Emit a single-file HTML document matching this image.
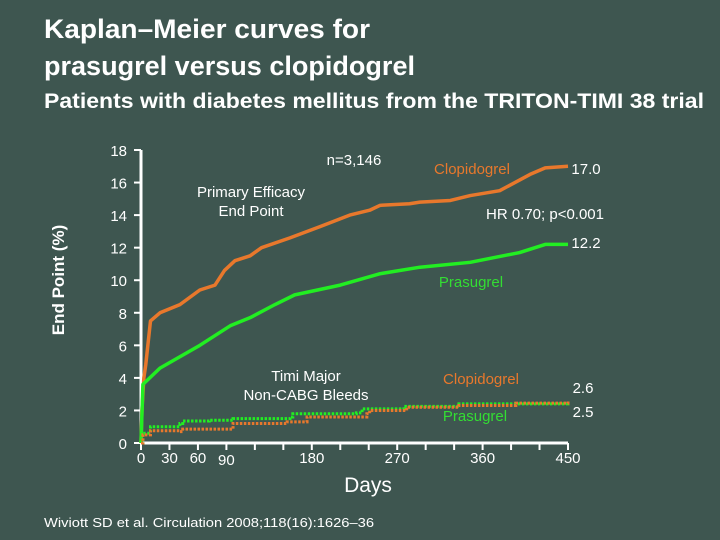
<!DOCTYPE html>
<html><head><meta charset="utf-8"><style>
html,body{margin:0;padding:0;background:#3e5650;}
svg{display:block;font-family:"Liberation Sans",sans-serif;}
</style></head><body>
<svg id="chart" width="720" height="540" viewBox="0 0 720 540">
<rect width="720" height="540" fill="#3e5650"/>
<text x="44" y="38" fill="#fff" font-size="27" font-weight="bold" textLength="326" lengthAdjust="spacingAndGlyphs">Kaplan–Meier curves for</text>
<text x="44" y="75" fill="#fff" font-size="27" font-weight="bold" textLength="371" lengthAdjust="spacingAndGlyphs">prasugrel versus clopidogrel</text>
<text x="44" y="108" fill="#fff" font-size="21" font-weight="bold" textLength="660" lengthAdjust="spacingAndGlyphs">Patients with diabetes mellitus from the TRITON-TIMI 38 trial</text>
<g id="axes"></g>
<g id="series"></g>
<text transform="translate(64,280) rotate(-90)" text-anchor="middle" fill="#fff" font-size="17" font-weight="bold">End Point (%)</text>
<text x="368" y="492" text-anchor="middle" fill="#fff" font-size="21">Days</text>
<text x="354" y="165" text-anchor="middle" fill="#fff" font-size="15">n=3,146</text>
<text x="251" y="197" text-anchor="middle" fill="#fff" font-size="15">Primary Efficacy</text>
<text x="251" y="216" text-anchor="middle" fill="#fff" font-size="15">End Point</text>
<text x="306" y="381" text-anchor="middle" fill="#fff" font-size="15">Timi Major</text>
<text x="306" y="400" text-anchor="middle" fill="#fff" font-size="15">Non-CABG Bleeds</text>
<text x="472" y="174" text-anchor="middle" fill="#e8782c" font-size="15">Clopidogrel</text>
<text x="586" y="174" text-anchor="middle" fill="#fff" font-size="15">17.0</text>
<text x="545" y="219" text-anchor="middle" fill="#fff" font-size="15">HR 0.70; p&lt;0.001</text>
<text x="586" y="248" text-anchor="middle" fill="#fff" font-size="15">12.2</text>
<text x="471" y="287" text-anchor="middle" fill="#33dd33" font-size="15">Prasugrel</text>
<text x="481" y="384" text-anchor="middle" fill="#e8782c" font-size="15">Clopidogrel</text>
<text x="583" y="393" text-anchor="middle" fill="#fff" font-size="15">2.6</text>
<text x="475" y="421" text-anchor="middle" fill="#33dd33" font-size="15">Prasugrel</text>
<text x="583" y="417" text-anchor="middle" fill="#fff" font-size="15">2.5</text>
<text x="44" y="527" fill="#fff" font-size="12.5" textLength="330" lengthAdjust="spacingAndGlyphs">Wiviott SD et al. Circulation 2008;118(16):1626–36</text>
</svg>
<script>
const yTicks=[0,2,4,6,8,10,12,14,16,18];
const xTickDays=[0,30,60,90,120,150,180,210,240,270,300,330,360,390,420,450];
const xLabels=[0,30,60,90,180,270,360,450];
const clopEffDays=[0,1,2,3,5,10,20,41,62,78,88,99,115,127,157,189,220,241,252,283,294,326,347,378,410,426,450];
const clopEffVals=[0,2,3,4,4.8,7.5,8.0,8.5,9.4,9.7,10.6,11.2,11.5,12.0,12.6,13.3,14.0,14.3,14.6,14.7,14.8,14.9,15.2,15.5,16.5,16.9,17.0];
const prasEffDays=[0,2,20,62,94,115,141,162,210,252,294,347,399,426,450];
const prasEffVals=[0,3.6,4.6,6.0,7.2,7.7,8.5,9.1,9.7,10.4,10.8,11.1,11.7,12.2,12.2];
const clopBleedDays=[0,2,10,41,44,86,97,154,175,238,241,276,280,335,395,450];
const clopBleedVals=[0,0.5,0.75,0.7,0.85,0.85,1.2,1.3,1.6,1.8,2.0,2.0,2.2,2.3,2.45,2.55];
const prasBleedDays=[0,2,10,41,44,72,97,157,160,227,233,272,277,332,335,450];
const prasBleedVals=[0,0.6,1.0,1.2,1.35,1.4,1.5,1.6,1.8,1.85,2.1,2.1,2.25,2.25,2.4,2.5];
const NS='http://www.w3.org/2000/svg';
const x=d=>141+d*(568-141)/450;
const y=v=>443-v*(443-150)/18;
function mk(tag,attrs,parent){const e=document.createElementNS(NS,tag);for(const k in attrs)e.setAttribute(k,attrs[k]);parent.appendChild(e);return e;}
const ax=document.getElementById('axes');
let a=mk('line',{x1:x(0),y1:y(18),x2:x(0),y2:y(0)+1,stroke:'#fff','stroke-width':3},ax);


a=mk('line',{x1:x(0)-1,y1:y(0),x2:x(450),y2:y(0),stroke:'#fff','stroke-width':3},ax);


yTicks.forEach(v=>{
  const t=mk('line',{x1:x(0)-7,y1:y(v),x2:x(0),y2:y(v),stroke:'#fff','stroke-width':2},ax);
  
  
  const l=mk('text',{x:x(0)-14,y:y(v)+6,'text-anchor':'end',fill:'#fff','font-size':15},ax);
  l.textContent=v;
  
  
});
xTickDays.forEach(d=>{
  const t=mk('line',{x1:x(d),y1:y(0),x2:x(d),y2:y(0)+7,stroke:'#fff','stroke-width':2},ax);
  
  
});
xLabels.forEach(d=>{
  const l=mk('text',{x:x(d),y:(d===90?465:463),'text-anchor':'middle',fill:'#fff','font-size':15},ax);
  l.textContent=d;
  
  
});
function step(days,vals){let p='M'+x(days[0])+','+y(vals[0]);for(let i=1;i<days.length;i++){p+=' L'+x(days[i])+','+y(vals[i-1])+' L'+x(days[i])+','+y(vals[i]);}return p;}
function smooth(days,vals){return 'M'+days.map((d,i)=>x(d)+','+y(vals[i])).join(' L');}
const sg=document.getElementById('series');
let s=mk('path',{d:smooth(clopEffDays,clopEffVals),fill:'none',stroke:'#e8782c','stroke-width':3.5,'stroke-linejoin':'round'},sg);


s=mk('path',{d:smooth(prasEffDays,prasEffVals),fill:'none',stroke:'#22ee22','stroke-width':3.5,'stroke-linejoin':'round'},sg);


s=mk('path',{d:step(prasBleedDays,prasBleedVals),fill:'none',stroke:'#22ee22','stroke-width':3,'stroke-dasharray':'2.5,1.5'},sg);


s=mk('path',{d:step(clopBleedDays,clopBleedVals),fill:'none',stroke:'#e8782c','stroke-width':3,'stroke-dasharray':'2.5,1.5'},sg);


</script>
</body></html>
